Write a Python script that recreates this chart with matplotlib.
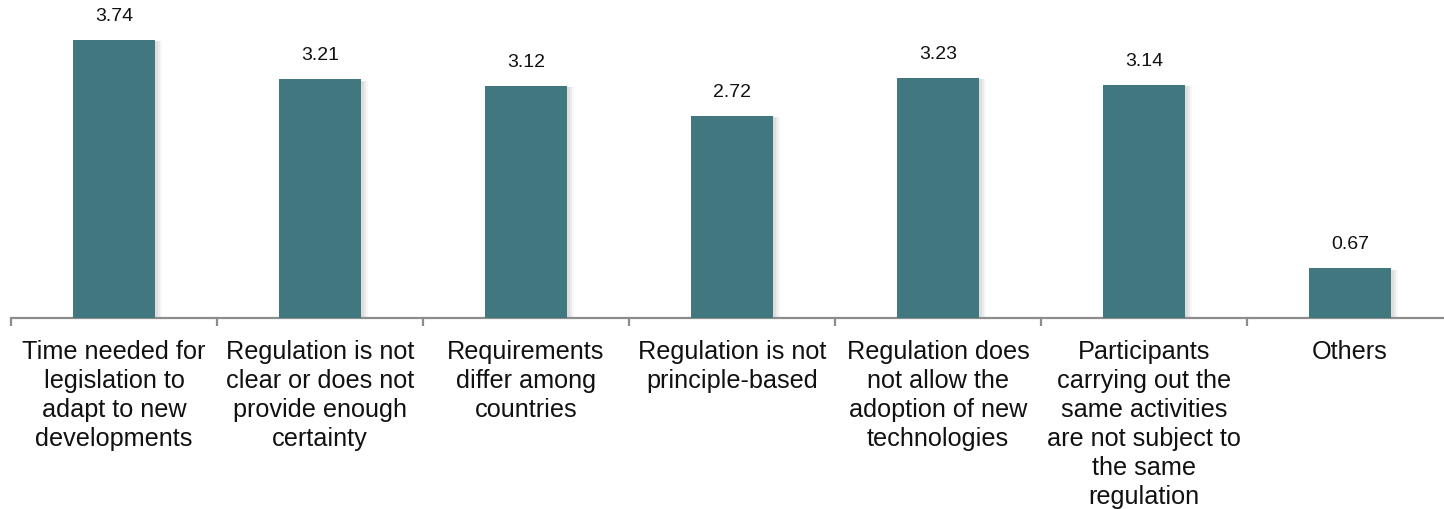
import matplotlib
matplotlib.use("Agg")
import matplotlib.pyplot as plt
from matplotlib import patheffects as pe
import numpy as np

plt.rcParams['font.family'] = ['Liberation Sans', 'DejaVu Sans']

categories = [
    "Time needed for\nlegislation to\nadapt to new\ndevelopments",
    "Regulation is not\nclear or does not\nprovide enough\ncertainty",
    "Requirements\ndiffer among\ncountries",
    "Regulation is not\nprinciple-based",
    "Regulation does\nnot allow the\nadoption of new\ntechnologies",
    "Participants\ncarrying out the\nsame activities\nare not subject to\nthe same\nregulation",
    "Others",
]
values = [3.74, 3.21, 3.12, 2.72, 3.23, 3.14, 0.67]
value_labels = ["3.74", "3.21", "3.12", "2.72", "3.23", "3.14", "0.67"]

bar_color = "#417880"
axis_color = "#8c8c8c"

fig = plt.figure(figsize=(14.44, 5.10), dpi=100)
ax = fig.add_axes([11 / 1444, 191 / 510, 1442 / 1444, 319 / 510])

x = np.arange(len(values))
bars = ax.bar(x, values, width=0.4, color=bar_color, zorder=3)

# soft drop shadow to the right of each bar
for b in bars:
    b.set_path_effects([
        pe.SimplePatchShadow(offset=(5, -1), shadow_rgbFace="#9a9a9a", alpha=0.08),
        pe.SimplePatchShadow(offset=(3.5, -1), shadow_rgbFace="#9a9a9a", alpha=0.12),
        pe.SimplePatchShadow(offset=(2, -1), shadow_rgbFace="#9a9a9a", alpha=0.15),
        pe.Normal(),
    ])

for xi, v, lab in zip(x, values, value_labels):
    ax.annotate(lab, (xi, v), xytext=(0, 11.5), textcoords="offset points",
                ha="center", va="bottom", fontsize=14, color="#111111")

ax.set_xlim(-0.5, len(values) - 0.5)
ax.set_ylim(0, 4.29)

for side in ("top", "right", "left"):
    ax.spines[side].set_visible(False)
ax.spines["bottom"].set_color(axis_color)
ax.spines["bottom"].set_linewidth(1.6)
ax.set_yticks([])

ax.set_xticks(np.arange(len(values) + 1) - 0.5)
ax.set_xticklabels([])
ax.tick_params(axis="x", length=6, width=1.6, color=axis_color, direction="out")

for xi, cat in zip(x, categories):
    ax.text(xi, -0.28, cat, ha="center", va="top", fontsize=18.2,
            color="#111111", linespacing=1.26, transform=ax.transData)

fig.savefig("out.png", dpi=100)
